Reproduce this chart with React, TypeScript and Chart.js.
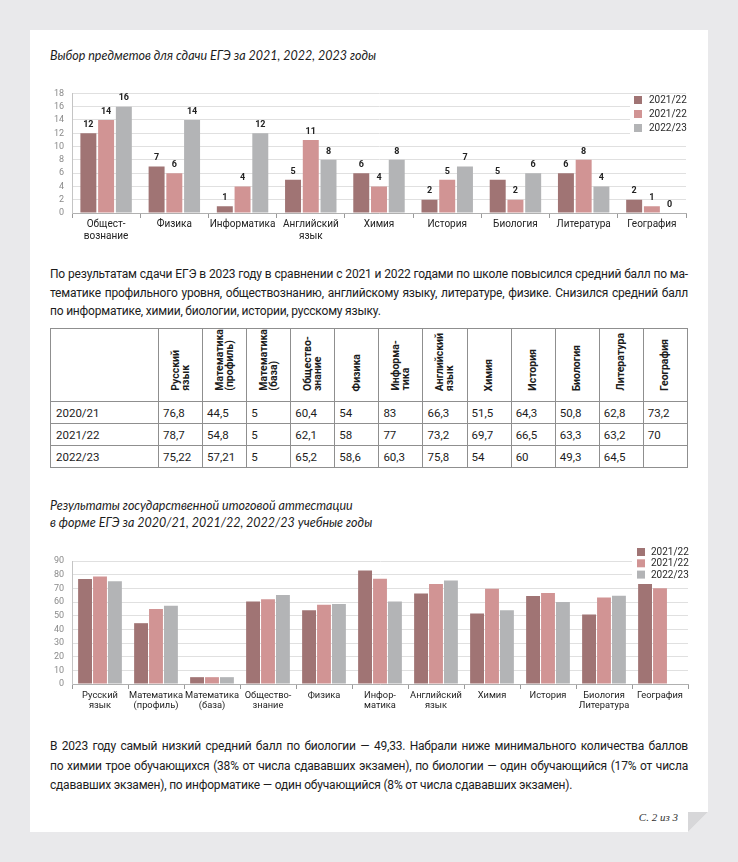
import React, { useEffect, useRef } from 'react';
import { Chart, registerables } from 'chart.js';

Chart.register(...registerables);
Chart.defaults.font.family = 'Roboto';

// ---------- data ----------
const seriesLabels = ['2021/22', '2021/22', '2022/23'];
const seriesColors = ['#a07474', '#d19494', '#b3b4b6'];

const choiceCategories: (string | string[])[] = [
  ['Общест-', 'вознание'], 'Физика', 'Информатика', ['Английский', 'язык'], 'Химия',
  'История', 'Биология', 'Литература', 'География',
];
const choice1 = [12, 7, 1, 5, 6, 2, 5, 6, 2];
const choice2 = [14, 6, 4, 11, 4, 5, 2, 8, 1];
const choice3 = [16, 14, 12, 8, 8, 7, 6, 4, 0];
const choiceMax = 18;
const choiceStep = 2;

const resultCategories: (string | string[])[] = [
  ['Русский', 'язык'], ['Математика', '(профиль)'], ['Математика', '(база)'], ['Общество-', 'знание'],
  'Физика', ['Инфор-', 'матика'], ['Английский', 'язык'], 'Химия', 'История',
  ['Биология', 'Литература'], 'География',
];
const result1 = [76.8, 44.5, 5, 60.4, 54, 83, 66.3, 51.5, 64.3, 50.8, 73.2];
const result2 = [78.7, 54.8, 5, 62.1, 58, 77, 73.2, 69.7, 66.5, 63.3, 70];
const result3 = [75.22, 57.21, 5, 65.2, 58.6, 60.3, 75.8, 54, 60, 64.5, null];
const resultMax = 90;
const resultStep = 10;

const tableHeaders = [
  ['Русский', 'язык'], ['Математика', '(профиль)'], ['Математика', '(база)'], ['Общество-', 'знание'],
  ['Физика'], ['Информа-', 'тика'], ['Английский', 'язык'], ['Химия'], ['История'], ['Биология'],
  ['Литература'], ['География'],
];
const tableYears = ['2020/21', '2021/22', '2022/23'];
const table2021 = ['76,8', '44,5', '5', '60,4', '54', '83', '66,3', '51,5', '64,3', '50,8', '62,8', '73,2'];
const table2022 = ['78,7', '54,8', '5', '62,1', '58', '77', '73,2', '69,7', '66,5', '63,3', '63,2', '70'];
const table2023 = ['75,22', '57,21', '5', '65,2', '58,6', '60,3', '75,8', '54', '60', '49,3', '64,5', ''];

const title1 = 'Выбор предметов для сдачи ЕГЭ за 2021, 2022, 2023 годы';
const title2Lines = [
  'Результаты государственной итоговой аттестации',
  'в форме ЕГЭ за 2020/21, 2021/22, 2022/23 учебные годы',
];
const para1Lines = [
  'По результатам сдачи ЕГЭ в 2023 году в сравнении с 2021 и 2022 годами по школе повысился средний балл по ма-',
  'тематике профильного уровня, обществознанию, английскому языку, литературе, физике. Снизился средний балл',
  'по информатике, химии, биологии, истории, русскому языку.',
];
const para2Lines = [
  'В 2023 году самый низкий средний балл по биологии — 49,33. Набрали ниже минимального количества баллов',
  'по химии трое обучающихся (38% от числа сдававших экзамен), по биологии — один обучающийся (17% от числа',
  'сдававших экзамен), по информатике — один обучающийся (8% от числа сдававших экзамен).',
];
const pageNumber = 'С. 2 из 3';

// ---------- plugins ----------
const boxLegendPlugin = {
  id: 'boxLegend',
  beforeDatasetsDraw(chart: any, _a: any, o: any) {
    const ctx = chart.ctx;
    ctx.save();
    ctx.fillStyle = '#ffffff';
    ctx.fillRect(o.bgX, o.bgY, o.bgW, o.bgH);
    ctx.restore();
  },
  afterDraw(chart: any, _a: any, o: any) {
    const ctx = chart.ctx;
    ctx.save();
    ctx.font = `${o.fontSize}px Roboto`;
    ctx.textBaseline = 'middle';
    ctx.textAlign = 'left';
    chart.data.datasets.forEach((ds: any, i: number) => {
      const cy = o.y + i * o.rowH;
      ctx.fillStyle = ds.backgroundColor;
      ctx.fillRect(o.x, cy - o.box / 2, o.box, o.box);
      ctx.fillStyle = '#2a2a2a';
      ctx.fillText(ds.label, o.textX, cy + 0.5);
    });
    ctx.restore();
  },
};

const valueLabelPlugin = {
  id: 'valueLabels',
  afterDatasetsDraw(chart: any) {
    const ctx = chart.ctx;
    ctx.save();
    ctx.font = 'bold 9px Roboto';
    ctx.fillStyle = '#222';
    ctx.textAlign = 'center';
    ctx.textBaseline = 'bottom';
    chart.data.datasets.forEach((ds: any, i: number) => {
      const meta = chart.getDatasetMeta(i);
      meta.data.forEach((el: any, j: number) => {
        const v = ds.data[j];
        if (v == null) return;
        ctx.fillText(String(v), el.x, el.y - 4);
      });
    });
    ctx.restore();
  },
};

function buildConfig(o: any): any {
  const plugins: any[] = [boxLegendPlugin];
  if (o.valueLabels) plugins.push(valueLabelPlugin);
  return {
    type: 'bar',
    data: {
      labels: o.labels,
      datasets: o.series.map((d: any, i: number) => ({
        label: seriesLabels[i],
        data: d,
        backgroundColor: seriesColors[i],
        borderWidth: 0,
        categoryPercentage: o.cat,
        barPercentage: o.bar,
      })),
    },
    options: {
      responsive: true,
      maintainAspectRatio: false,
      animation: false,
      layout: { padding: { top: o.padTop, right: o.padRight, left: 0, bottom: 0 } },
      plugins: {
        legend: { display: false },
        tooltip: { enabled: false },
        boxLegend: o.legend,
      },
      scales: {
        x: {
          grid: { offset: true, drawOnChartArea: false, drawTicks: true, tickLength: 5, color: '#9a9a9a' },
          border: { display: true, color: '#b0b0b0' },
          ticks: {
            autoSkip: false, maxRotation: 0, minRotation: 0, padding: 1, color: '#222',
            font: { family: 'Roboto', size: o.xFont, lineHeight: 1.15 },
          },
          afterFit: (s: any) => { s.height = o.xHeight; },
        },
        y: {
          min: 0,
          max: o.yMax,
          ticks: { stepSize: o.yStep, autoSkip: false, color: '#8a8a8a', padding: 8, font: { family: 'Roboto', size: 9 } },
          grid: { color: '#e0e0e0', drawTicks: false },
          border: { display: true, color: '#c4c4c4' },
          afterFit: (s: any) => { s.width = 32; },
        },
      },
    },
    plugins,
  };
}

function BarChart({ left, top, width, height, config }: any) {
  const ref = useRef<HTMLCanvasElement>(null);
  useEffect(() => {
    const chart = new Chart(ref.current as HTMLCanvasElement, config);
    return () => chart.destroy();
  }, []);
  return (
    <div style={{ position: 'absolute', left, top, width, height }}>
      <canvas ref={ref} />
    </div>
  );
}

const bodyFont = 'Roboto, "Noto Sans", sans-serif';

function Paragraph({ lines, top, lineHeight }: any) {
  return (
    <div style={{ position: 'absolute', left: 50, top, width: 638, fontFamily: bodyFont, fontSize: 12, letterSpacing: '-0.2px', color: '#1c1c1c', lineHeight: `${lineHeight}px` }}>
      {lines.map((l: string, i: number) => (
        <div key={i} style={{ textAlign: 'justify', textAlignLast: i < lines.length - 1 ? 'justify' : 'left' } as any}>{l}</div>
      ))}
    </div>
  );
}

function DataTable() {
  const cellBorder = '1px solid #8f8f8f';
  const rows = [table2021, table2022, table2023];
  return (
    <table style={{ position: 'absolute', left: 50, top: 328, width: 638, borderCollapse: 'collapse', tableLayout: 'fixed', fontFamily: bodyFont, color: '#1c1c1c' }}>
      <colgroup>
        <col style={{ width: 108 }} />
        {tableHeaders.map((_, i) => <col key={i} />)}
      </colgroup>
      <tbody>
        <tr style={{ height: 73 }}>
          <th style={{ border: cellBorder }} />
          {tableHeaders.map((h, i) => (
            <th key={i} style={{ border: cellBorder, verticalAlign: 'bottom', textAlign: 'center', padding: '0 0 6px 0' }}>
              <div style={{ display: 'inline-block', writingMode: 'vertical-rl', transform: 'rotate(180deg)', fontSize: 10.5, fontWeight: 700, lineHeight: '10px', textAlign: 'left', whiteSpace: 'nowrap' } as any}>
                {h.map((ln, k) => <div key={k}>{ln}</div>)}
              </div>
            </th>
          ))}
        </tr>
        {rows.map((r, ri) => (
          <tr key={ri} style={{ height: 22 }}>
            <td style={{ border: cellBorder, fontSize: 11.5, padding: '0 0 0 5px' }}>{tableYears[ri]}</td>
            {r.map((v, ci) => (
              <td key={ci} style={{ border: cellBorder, fontSize: 11.5, padding: '0 0 0 4px' }}>{v}</td>
            ))}
          </tr>
        ))}
      </tbody>
    </table>
  );
}

export default function App() {
  const cfg1 = buildConfig({
    labels: choiceCategories,
    series: [choice1, choice2, choice3],
    yMax: choiceMax, yStep: choiceStep,
    padTop: 10, padRight: 14, xHeight: 37, xFont: 10,
    cat: 0.78, bar: 0.9, valueLabels: true,
    legend: { bgX: 590, bgY: 14, bgW: 62, bgH: 46, x: 594, box: 8, y: 20, rowH: 14, textX: 609, fontSize: 10 },
  });
  const cfg2 = buildConfig({
    labels: resultCategories,
    series: [result1, result2, result3],
    yMax: resultMax, yStep: resultStep,
    padTop: 21, padRight: 12, xHeight: 36, xFont: 9.3,
    cat: 0.8, bar: 0.93, valueLabels: false,
    legend: { bgX: 592, bgY: 6, bgW: 62, bgH: 35, x: 597, box: 8, y: 12, rowH: 11.3, textX: 611, fontSize: 10 },
  });

  return (
    <div style={{ position: 'absolute', left: 0, top: 0, width: 738, height: 862, background: '#e9e9eb', overflow: 'hidden' }}>
      <div style={{ position: 'absolute', left: 30, top: 30, width: 678, height: 802, background: '#ffffff', clipPath: 'polygon(0 0, 100% 0, 100% calc(100% - 20px), calc(100% - 20px) 100%, 0 100%)' }} />
      <div style={{ position: 'absolute', left: 688, top: 812, width: 20, height: 20, background: '#d7d7d9', clipPath: 'polygon(0 0, 100% 0, 0 100%)' }} />

      <div style={{ position: 'absolute', left: 50, top: 47, fontFamily: 'Lato, sans-serif', fontStyle: 'italic', fontSize: 12.5, lineHeight: '17px', color: '#1c1c1c', whiteSpace: 'nowrap' }}>
        {title1}
      </div>

      <BarChart left={40} top={80} width={660} height={170} config={cfg1} />

      <Paragraph lines={para1Lines} top={265} lineHeight={18.5} />

      <DataTable />

      <div style={{ position: 'absolute', left: 50, top: 497, fontFamily: 'Lato, sans-serif', fontStyle: 'italic', fontSize: 12.5, lineHeight: '17px', color: '#1c1c1c', whiteSpace: 'nowrap' }}>
        {title2Lines.map((l, i) => <div key={i}>{l}</div>)}
      </div>

      <BarChart left={40} top={540} width={660} height={180} config={cfg2} />

      <Paragraph lines={para2Lines} top={737} lineHeight={19.5} />

      <div style={{ position: 'absolute', right: 738 - 678, top: 810, fontFamily: '"Liberation Serif", serif', fontStyle: 'italic', fontSize: 11, lineHeight: '14px', color: '#333', whiteSpace: 'nowrap' }}>
        {pageNumber}
      </div>
    </div>
  );
}
